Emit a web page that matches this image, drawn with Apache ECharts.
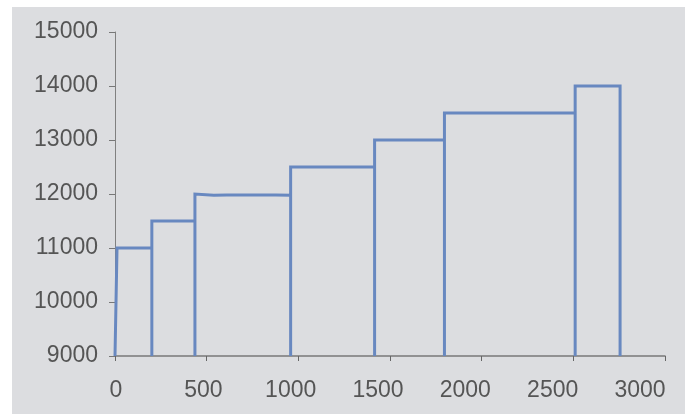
<!DOCTYPE html>
<html>
<head>
<meta charset="utf-8">
<script src="https://cdn.jsdelivr.net/npm/echarts@6/dist/echarts.min.js"></script>
<style>
html,body{margin:0;padding:0;background:#ffffff;}
#chart{width:691px;height:414px;}
</style>
</head>
<body>
<div id="chart"></div>
<script>
// Data (x value, y value) along the line
const xValues = [0, 11, 201, 201, 201, 436, 436, 436, 539, 539, 610, 610, 686, 686, 877, 877, 958, 958, 958, 1416, 1416, 1416, 1797, 1797, 1797, 2510, 2510, 2510, 2755, 2755];
const yValues = [9000, 11000, 11000, 9000, 11500, 11500, 9000, 12000, 11975, 12000, 11980, 12000, 11980, 12000, 11982, 11995, 11978, 9000, 12500, 12500, 9000, 13000, 13000, 9000, 13500, 13500, 9000, 14000, 14000, 9000];
const xTickLabels = ['0', '500', '1000', '1500', '2000', '2500', '3000'];
const yTickLabels = ['9000', '10000', '11000', '12000', '13000', '14000', '15000'];

const points = xValues.map((x, i) => [x, yValues[i]]);
const labelFont = {fontFamily: 'Liberation Sans, Arial, sans-serif', fontSize: 23, color: '#555555'};

const chart = echarts.init(document.getElementById('chart'), null, {renderer: 'canvas'});
chart.setOption({
  animation: false,
  backgroundColor: '#ffffff',
  graphic: [{
    type: 'rect', z: -10, silent: true,
    shape: {x: 12, y: 7, width: 673, height: 407},
    style: {fill: '#dcdde0'}
  }],
  grid: [
    {left: 115, right: 26, top: 32, bottom: 58},
    {left: 116, right: 51, top: 32, bottom: 58}
  ],
  xAxis: [{
    type: 'value', gridIndex: 0, min: 0, max: 3000, interval: 500,
    axisLine: {show: true, lineStyle: {color: '#787878', width: 1.5}},
    axisTick: {show: true, length: 5, lineStyle: {color: '#666666', width: 1}},
    axisLabel: {show: false},
    splitLine: {show: false}
  }, {
    type: 'value', gridIndex: 1, min: 0, max: 3000, interval: 500,
    axisLine: {show: false}, axisTick: {show: false}, splitLine: {show: false},
    axisLabel: Object.assign({
      show: true, margin: 23,
      formatter: function (v) { return xTickLabels[Math.round(v / 500)]; }
    }, labelFont)
  }],
  yAxis: [{
    type: 'value', gridIndex: 0, min: 9000, max: 15000, interval: 1000,
    axisLine: {show: true, lineStyle: {color: '#808080', width: 1}},
    axisTick: {show: true, length: 6, lineStyle: {color: '#777777', width: 1}},
    splitLine: {show: false},
    axisLabel: Object.assign({
      margin: 17, padding: [6, 0, 0, 0],
      formatter: function (v) { return yTickLabels[Math.round((v - 9000) / 1000)]; }
    }, labelFont)
  }, {
    type: 'value', gridIndex: 1, min: 0, max: 1, show: false
  }],
  series: [{
    type: 'line',
    xAxisIndex: 0, yAxisIndex: 0,
    data: points,
    symbol: 'none',
    smooth: false,
    lineStyle: {color: '#6888c0', width: 3, cap: 'butt', join: 'miter'},
    z: 5
  }]
});
</script>
</body>
</html>
